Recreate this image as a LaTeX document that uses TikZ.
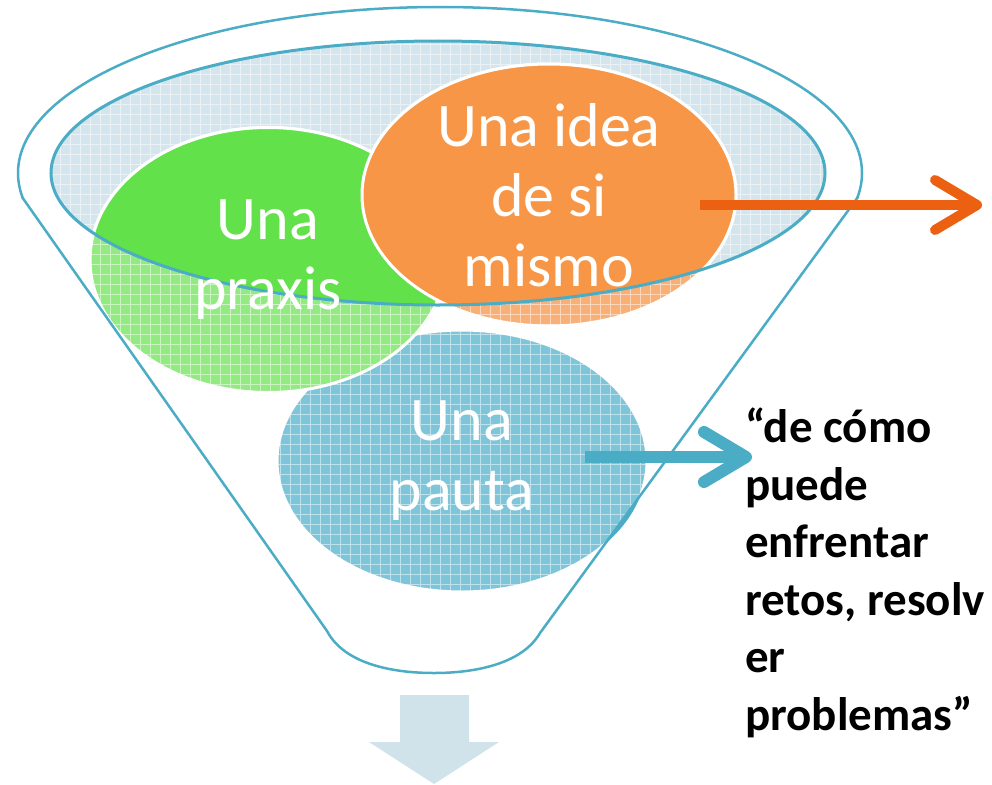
\documentclass[tikz,border=0pt]{standalone}
\usepackage{fontspec}
\setmainfont{Carlito}
\usetikzlibrary{arrows.meta, shapes.geometric, patterns.meta}

\definecolor{funnelblue}{HTML}{4BACC6}
\definecolor{surfgrey}{HTML}{D5E5ED}
\definecolor{praxisgreen}{HTML}{62E14A}
\definecolor{praxislight}{HTML}{94EA82}
\definecolor{ideaorange}{HTML}{F79646}
\definecolor{idealight}{HTML}{F9B077}
\definecolor{pautablue}{HTML}{7EC5DA}
\definecolor{arroworange}{HTML}{EC6012}
\definecolor{downblue}{HTML}{D0E2EA}

\begin{document}
\begin{tikzpicture}[
  x=1pt, y=-1pt,
  ball/.style={ellipse, draw=white, line width=3pt, inner sep=0pt},
  gridfill/.style={postaction={pattern={Hatch[angle=0, distance=10pt, line width=0.8pt]},
                               pattern color=white, opacity=0.5}},
  balltext/.style={text=white, align=center, inner sep=0pt, font=\fontsize{62}{70}\selectfont},
  rim/.style={draw=funnelblue, line width=2.5pt},
  flow/.style={line width=#1, -{Straight Barb[length=42pt, width=50pt, round]}},
]
\useasboundingbox (0,0) rectangle (992,784);

% --- surface of the funnel ---
\fill[surfgrey, gridfill] (438,173) ellipse [x radius=387pt, y radius=132pt];

% --- the three balls, washed out below the surface ---
\node[ball, fill=pautablue, gridfill, minimum width=370pt, minimum height=262pt] (pauta) at (462,461) {};
\node[ball, fill=praxislight, gridfill, minimum width=356pt, minimum height=265pt] (praxis) at (268,260) {};
\node[ball, fill=idealight, gridfill, minimum width=374pt, minimum height=262pt] (idea) at (549,195) {};

% solid where they stand in the surface
\begin{scope}
  \clip (438,173) ellipse [x radius=387pt, y radius=132pt];
  \path[fill=praxisgreen, draw=white, line width=3pt] (praxis.center) ellipse [x radius=178pt, y radius=132.5pt];
  \path[fill=ideaorange, draw=white, line width=3pt] (idea.center) ellipse [x radius=187pt, y radius=131pt];
\end{scope}

% part of the lower ball outside the wall
\begin{scope}
  \clip (pauta.center) ellipse [x radius=185pt, y radius=131pt];
  \fill[funnelblue] (540,633) -- (858,197) -- (992,197) -- (992,784) -- cycle;
\end{scope}

% --- funnel outline ---
\begin{scope}
  \clip (0,0) rectangle (992,197);
  \draw[rim] (440,173) ellipse [x radius=422pt, y radius=166pt];
\end{scope}
\draw[rim] (22,197) -- (327,631) .. controls (345,665) and (395,673) .. (434,673)
  .. controls (475,673) and (522,664) .. (540,633) -- (858,197);
\draw[rim, line width=3pt] (438,173) ellipse [x radius=387pt, y radius=132pt];

% --- labels ---
\node[balltext] (praxislbl) at (praxis.center) {Una\\praxis};
\node[balltext] (idealbl) at (idea.center) {Una idea\\de si\\mismo};
\node[balltext] (pautalbl) at (pauta.center) {Una\\pauta};
\node[anchor=north west, inner sep=0pt, align=left,
      font=\fontsize{47}{57.5}\selectfont\bfseries] (quote) at (745,408)
  {“de cómo\\puede\\enfrentar\\retos, resolv\\er\\problemas”};

% --- arrows ---
\coordinate (ideaout) at (700,205);
\coordinate (ideaend) at (982,205);
\coordinate (pautaout) at (585,457);
\coordinate (pautaend) at (752,457);
\draw[flow=10pt, arroworange] (ideaout) -- (ideaend);
\draw[flow=12pt, funnelblue] (pautaout) -- (pautaend);
\fill[downblue] (400,695) -- (469,695) -- (469,742) -- (499,742) -- (434,784)
  -- (369,742) -- (400,742) -- cycle;
\end{tikzpicture}
\end{document}
